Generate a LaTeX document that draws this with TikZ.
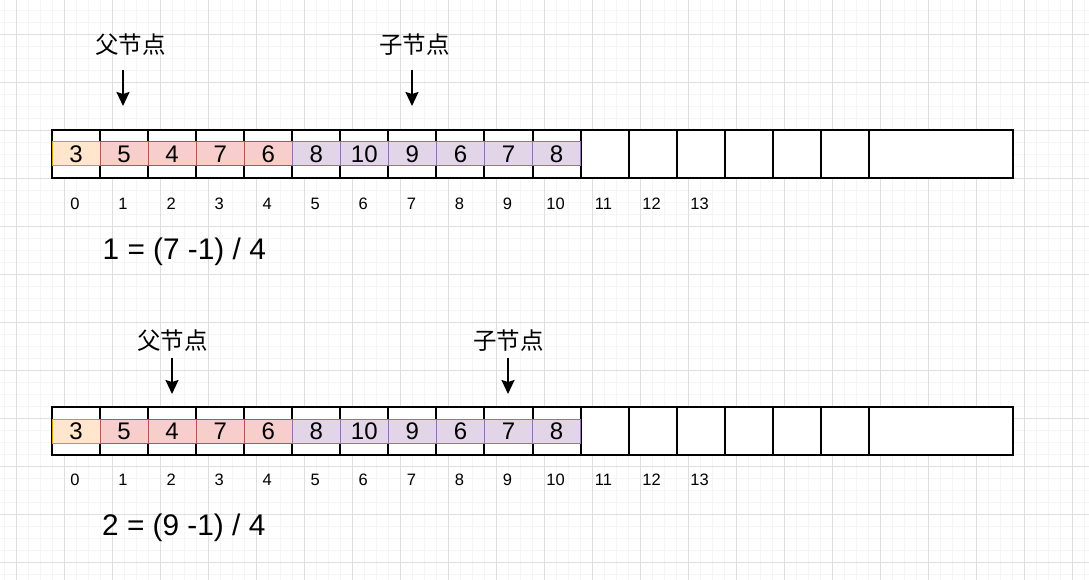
\documentclass[tikz,border=0pt]{standalone}
\usepackage{fontspec}
\setmainfont{Liberation Sans}
\newfontfamily\cjk{Noto Sans CJK SC}
\usetikzlibrary{arrows.meta}
\definecolor{gridmaj}{HTML}{DEDEDE}
\definecolor{gridmin}{HTML}{F5F5F5}
\definecolor{oraF}{HTML}{FFE6CC}
\definecolor{oraD}{HTML}{D79B00}
\definecolor{redF}{HTML}{F8CECC}
\definecolor{redD}{HTML}{B85450}
\definecolor{purF}{HTML}{E1D5E7}
\definecolor{purD}{HTML}{9673A6}
\tikzset{
  cellbox/.style={draw=black, line width=2pt, minimum width=48.05pt, minimum height=48pt, inner sep=0pt, fill=white},
  band/.style={line width=1pt, minimum width=48.05pt, minimum height=24pt, inner sep=0pt, font=\fontsize{24}{24}\selectfont},
  orab/.style={band, fill=oraF, draw=oraD},
  redb/.style={band, fill=redF, draw=redD},
  purb/.style={band, fill=purF, draw=purD},
  idx/.style={inner sep=0pt, font=\fontsize{16.5}{16.5}\selectfont},
  formula/.style={inner sep=0pt, anchor=west, font=\fontsize{29.8}{29.8}\selectfont},
  cjklabel/.style={inner sep=0pt, font=\cjk\fontsize{23.5}{23.5}\selectfont},
  ptr/.style={line width=2pt, -{Stealth[length=14pt, width=13pt, inset=2pt]}}
}
\begin{document}
\begin{tikzpicture}[x=1pt, y=-1pt]
\fill[white] (0,0) rectangle (1089,580);
\useasboundingbox (0,0) rectangle (1089,580);
% grid
\foreach \x in {0,...,90} \draw[gridmin, line width=0.8pt] ({4.5+12*\x},0) -- ({4.5+12*\x},580);
\foreach \y in {0,...,48} \draw[gridmin, line width=0.8pt] (0,{10.3+12*\y}) -- (1089,{10.3+12*\y});
\foreach \x in {0,...,22} \draw[gridmaj, line width=1pt] ({16.5+48*\x},0) -- ({16.5+48*\x},580);
\foreach \y in {0,...,12} \draw[gridmaj, line width=1pt] (0,{34.3+48*\y}) -- (1089,{34.3+48*\y});

% ===== top array =====
\foreach \i in {0,...,16} \node[cellbox] (ta\i) at ({76.025+48.05*\i},154) {};
\node[cellbox, minimum width=144.15pt] (ta17) at (940.925,154) {};
\node[orab] (tb0) at (76.025,154) {3};
\foreach \v [count=\i from 1] in {5,4,7,6} \node[redb] (tb\i) at ({76.025+48.05*\i},154) {\v};
\foreach \v [count=\i from 5] in {8,10,9,6,7,8} \node[purb] (tb\i) at ({76.025+48.05*\i},154) {\v};
\foreach \i in {0,...,13} \node[idx] (ti\i) at ({75+48.05*\i},204) {\i};

\node[cjklabel] (tparent) at (130.5,45) {父节点};
\node[cjklabel] (tchild) at (414.5,45) {子节点};
\coordinate (tps) at (123,70);
\coordinate (tpe) at (123,106);
\coordinate (tcs) at (412,70);
\coordinate (tce) at (412,106);
\draw[ptr] (tps) -- (tpe);
\draw[ptr] (tcs) -- (tce);
\node[formula] (tform) at (102.5,252) {1 = (7 -1) / 4};

% ===== bottom array =====
\foreach \i in {0,...,16} \node[cellbox] (ba\i) at ({76.025+48.05*\i},431) {};
\node[cellbox, minimum width=144.15pt] (ba17) at (940.925,431) {};
\node[orab] (bb0) at (76.025,431) {3};
\foreach \v [count=\i from 1] in {5,4,7,6} \node[redb] (bb\i) at ({76.025+48.05*\i},431) {\v};
\foreach \v [count=\i from 5] in {8,10,9,6,7,8} \node[purb] (bb\i) at ({76.025+48.05*\i},431) {\v};
\foreach \i in {0,...,13} \node[idx] (bi\i) at ({75+48.05*\i},480) {\i};

\node[cjklabel] (bparent) at (172.5,341) {父节点};
\node[cjklabel] (bchild) at (508.5,341) {子节点};
\coordinate (bps) at (172,358);
\coordinate (bpe) at (172,394);
\coordinate (bcs) at (508,358);
\coordinate (bce) at (508,394);
\draw[ptr] (bps) -- (bpe);
\draw[ptr] (bcs) -- (bce);
\node[formula] (bform) at (102,528) {2 = (9 -1) / 4};
\end{tikzpicture}
\end{document}
